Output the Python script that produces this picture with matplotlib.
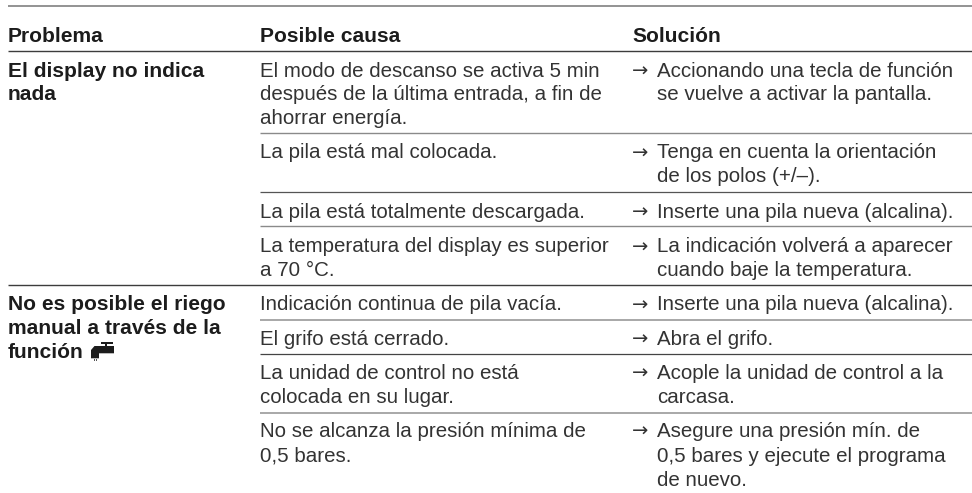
import matplotlib
matplotlib.use('Agg')
import matplotlib.pyplot as plt
from matplotlib.patches import Polygon, Rectangle

plt.rcParams['font.family'] = ['Liberation Sans', 'DejaVu Sans']

headers = ['Problema', 'Posible causa', 'Solución']
col_x = [8, 260, 632]
arrow_text_x = 657

# (baseline, text)
problems = [(77, 'El display no indica'), (100.5, 'nada'),
            (309.5, 'No es posible el riego'), (334, 'manual a través de la'), (358, 'función')]
causes = [(77, 'El modo de descanso se activa 5 min'), (100.5, 'después de la última entrada, a fin de'),
          (123.5, 'ahorrar energía.'),
          (158.5, 'La pila está mal colocada.'),
          (217.5, 'La pila está totalmente descargada.'),
          (252.5, 'La temperatura del display es superior'), (276, 'a 70 °C.'),
          (310.5, 'Indicación continua de pila vacía.'),
          (345, 'El grifo está cerrado.'),
          (379, 'La unidad de control no está'), (403, 'colocada en su lugar.'),
          (437, 'No se alcanza la presión mínima de'), (461.5, '0,5 bares.')]
solutions = [(77, 'Accionando una tecla de función', True), (100.5, 'se vuelve a activar la pantalla.', False),
             (158.5, 'Tenga en cuenta la orientación', True), (182, 'de los polos (+/–).', False),
             (217.5, 'Inserte una pila nueva (alcalina).', True),
             (252.5, 'La indicación volverá a aparecer', True), (276, 'cuando baje la temperatura.', False),
             (310.5, 'Inserte una pila nueva (alcalina).', True),
             (345, 'Abra el grifo.', True),
             (379, 'Acople la unidad de control a la', True), (403, 'carcasa.', False),
             (437, 'Asegure una presión mín. de', True), (461.5, '0,5 bares y ejecute el programa', False),
             (485.5, 'de nuevo.', False)]

# rules: y, start x, colour, width
rules = [(5.5, 8, '#8a8a8a', 1.3), (51, 8, '#3c3c3c', 1.0), (133, 260, '#8a8a8a', 1.0), (192, 260, '#555555', 0.9),
         (226, 260, '#8a8a8a', 1.0), (285, 8, '#3c3c3c', 1.0), (320, 260, '#999999', 1.2), (354, 260, '#444444', 0.9),
         (413, 260, '#999999', 1.2)]

fig = plt.figure(figsize=(9.72, 4.93), dpi=100)
ax = fig.add_axes([0, 0, 1, 1])
ax.set_xlim(0, 972)
ax.set_ylim(493, 0)
ax.axis('off')

fs = 14.8
fs_bold = 15.1
txt = '#333333'
for x, h in zip(col_x, headers):
    ax.text(x, 42.5, h, fontsize=fs_bold, fontweight='bold', color='#1c1c1c', va='baseline')
for y, s in problems:
    ax.text(col_x[0], y, s, fontsize=fs_bold, fontweight='bold', color='#1c1c1c', va='baseline')
for y, s in causes:
    ax.text(col_x[1], y, s, fontsize=fs, color=txt, va='baseline')
for y, s, arrow in solutions:
    ax.text(arrow_text_x, y, s, fontsize=fs, color=txt, va='baseline')
    if arrow:
        ax.text(col_x[2], y, '→', fontsize=14, family='DejaVu Sans', color=txt, va='baseline')

for y, x0, c, w in rules:
    ax.plot([x0, 972], [y, y], color=c, lw=w, solid_capstyle='butt')

# tap icon after "función"
ic = '#1c1c1c'
ax.add_patch(Rectangle((100.7, 342), 12, 1.5, color=ic, lw=0))
ax.add_patch(Rectangle((105, 342), 2.2, 4.5, color=ic, lw=0))
ax.add_patch(Polygon([(91, 358.3), (91, 350), (94.5, 346), (114, 346), (114, 353.3), (99, 353.3), (99, 358.3)],
                     closed=True, color=ic, lw=0))
for dx in (91.5, 93.8, 96.1):
    ax.add_patch(Rectangle((dx, 359.2), 0.9, 2, color='#555555', lw=0))

fig.savefig('out.png', dpi=100)
